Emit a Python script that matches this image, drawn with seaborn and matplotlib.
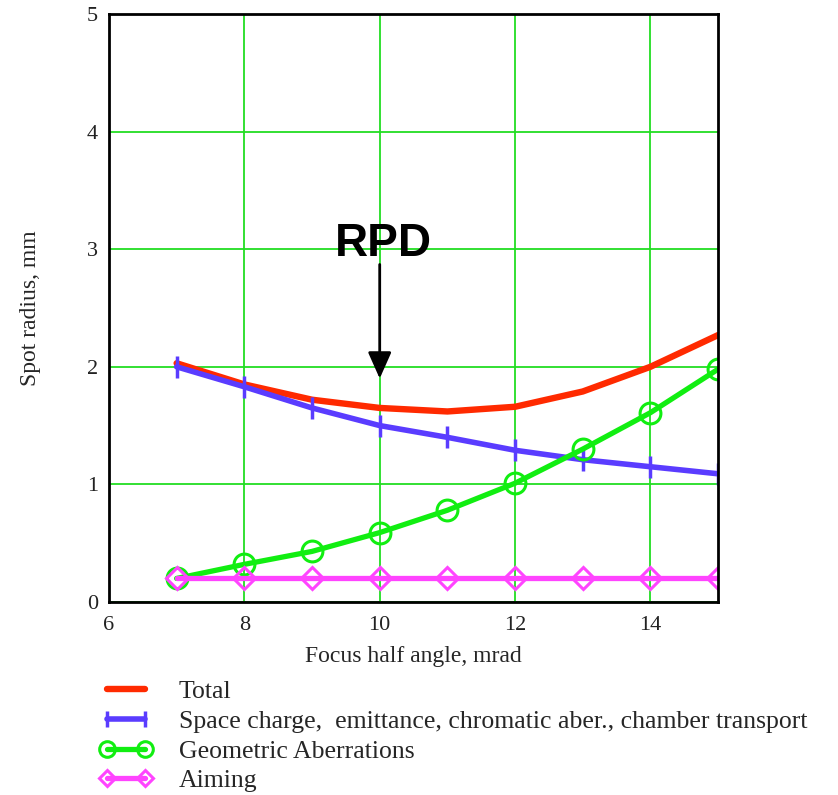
import matplotlib
matplotlib.use("Agg")
import matplotlib.pyplot as plt
import seaborn as sns

angle = [7, 8, 9, 10, 11, 12, 13, 14, 15]
total = [2.03, 1.85, 1.72, 1.65, 1.62, 1.66, 1.79, 2.00, 2.27]
space_charge = [2.00, 1.83, 1.65, 1.50, 1.40, 1.29, 1.21, 1.15, 1.09]
geometric = [0.20, 0.32, 0.43, 0.59, 0.78, 1.01, 1.30, 1.61, 1.98]
aiming = [0.20, 0.20, 0.20, 0.20, 0.20, 0.20, 0.20, 0.20, 0.20]

labels = ["Total",
          "Space charge,  emittance, chromatic aber., chamber transport",
          "Geometric Aberrations",
          "Aiming"]
x_ticks = [6, 8, 10, 12, 14]
y_ticks = [0, 1, 2, 3, 4, 5]

sns.set_theme(style="white")
plt.rcParams['font.family'] = ['Liberation Serif', 'DejaVu Serif']

fig = plt.figure(figsize=(8.38, 7.95), dpi=100)
ax = fig.add_axes([0.130, 0.2428, 0.727, 0.7396])

blue = "#5a3cff"
green = "#11ee11"
pink = "#ff44ff"
styles = [
    (total, "#ff2a00", None, dict(lw=4.6)),
    (space_charge, blue, "|", dict(lw=4.0, markersize=16, markeredgewidth=2.5,
                                   markeredgecolor=blue)),
    (geometric, green, "o", dict(lw=3.8, markersize=15, markerfacecolor="none",
                                 markeredgewidth=2.2, markeredgecolor=green)),
    (aiming, pink, "D", dict(lw=3.8, markersize=11, markerfacecolor="none",
                             markeredgewidth=2.2, markeredgecolor=pink)),
]
for (vals, col, mk, kw), lab in zip(styles, labels):
    sns.lineplot(x=angle, y=vals, ax=ax, color=col, marker=mk, label=lab,
                 zorder=3, **kw)

ax.set_xlim(6, 15)
ax.set_ylim(0, 5)
ax.set_xticks(x_ticks)
ax.set_yticks(y_ticks)
ax.grid(True, color="#22dd22", lw=1.3)
ax.tick_params(axis="x", length=0, labelsize=16, colors="#222222", pad=10)
ax.tick_params(axis="y", length=0, labelsize=16, colors="#222222", pad=8)
for s in ax.spines.values():
    s.set_color("black")
    s.set_linewidth(2)
    s.set_zorder(5)
ax.set_xlabel("Focus half angle, mrad", fontsize=17, labelpad=8)
ax.set_ylabel("Spot radius, mm", fontsize=17, labelpad=33)

ax.annotate("", xy=(10, 1.90), xytext=(10, 2.87),
            arrowprops=dict(arrowstyle="-|>,head_length=0.9,head_width=0.4",
                            color="black", lw=2.0, mutation_scale=18,
                            shrinkA=0, shrinkB=0))
ax.text(10.05, 3.04, "RPD", fontsize=33, fontweight="bold",
        family="Liberation Sans", ha="center", va="center", color="black")

h, l = ax.get_legend_handles_labels()
ax.get_legend().remove()
fig.legend(h, l, loc="upper left", bbox_to_anchor=(0.106, 0.157), frameon=False,
           fontsize=18.5, handlelength=2.1, handletextpad=1.0, labelspacing=0.26,
           numpoints=2, borderaxespad=0, markerscale=0.75)

fig.savefig("out.png", dpi=100)
